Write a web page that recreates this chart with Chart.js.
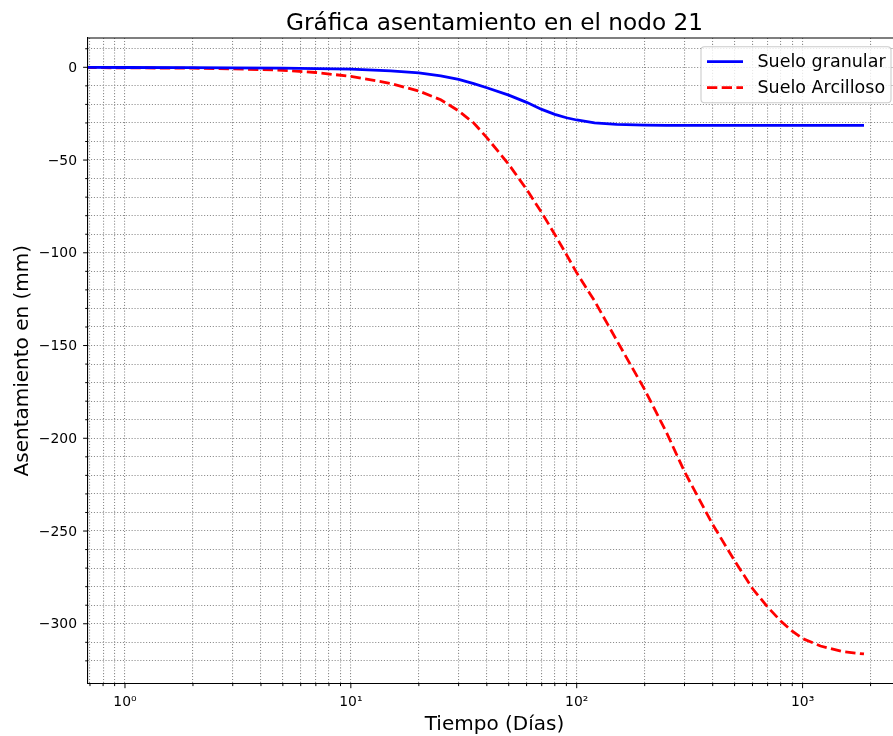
<!DOCTYPE html>
<html>
<head>
<meta charset="utf-8">
<script src="https://cdn.jsdelivr.net/npm/chart.js@4.4.0/dist/chart.umd.min.js"></script>
<style>
html,body{margin:0;padding:0;background:#fff;overflow:hidden;width:893px;height:736px}
canvas{display:block}
</style>
</head>
<body>
<canvas id="c" width="905" height="736"></canvas>
<script>
// ---- data ----
const dias = [0.5, 1, 2, 3, 5, 7, 10, 15, 20, 25, 30, 35, 40, 50, 60, 70, 80, 90, 100, 120, 150, 200, 250, 300, 400, 500, 600, 700, 800, 900, 1000, 1200, 1500, 1870];
const sueloGranular = [0, -0.1, -0.2, -0.3, -0.5, -0.7, -1.0, -1.9, -3.0, -4.6, -6.5, -8.8, -11.0, -15.0, -18.9, -22.7, -25.4, -27.2, -28.4, -29.9, -30.8, -31.2, -31.3, -31.3, -31.3, -31.3, -31.3, -31.3, -31.3, -31.3, -31.3, -31.3, -31.3, -31.3];
const sueloArcilloso = [0, -0.3, -0.5, -0.8, -1.6, -2.8, -4.9, -8.7, -12.8, -17.5, -23.5, -30.0, -37.9, -52.3, -65.8, -78.4, -90.1, -100.9, -110.8, -126.0, -147.0, -173.8, -197.0, -218.0, -246.5, -266.0, -281.0, -291.0, -298.5, -304.0, -308.0, -312.0, -315.0, -316.3];

const xTicks = [0.7, 0.8, 0.9, 1, 2, 3, 4, 5, 6, 7, 8, 9, 10, 20, 30, 40, 50, 60, 70, 80, 90, 100, 200, 300, 400, 500, 600, 700, 800, 900, 1000, 2000];
const xMajor = [1, 10, 100, 1000];
const xLabels = ['10\u2070', '10\u00B9', '10\u00B2', '10\u00B3'];
const yTicks = [10, 0, -10, -20, -30, -40, -50, -60, -70, -80, -90, -100, -110, -120, -130, -140, -150, -160, -170, -180, -190, -200, -210, -220, -230, -240, -250, -260, -270, -280, -290, -300, -310, -320];
const yMajor = [0, -50, -100, -150, -200, -250, -300];
const yLabels = ['0', '\u221250', '\u2212100', '\u2212150', '\u2212200', '\u2212250', '\u2212300'];

const titulo = 'Gráfica asentamiento en el nodo 21';
const xTitulo = 'Tiempo (Días)';
const yTitulo = 'Asentamiento en (mm)';
const serieNombres = ['Suelo granular', 'Suelo Arcilloso'];

const FONT = "'DejaVu Sans', sans-serif";

const decorPlugin = {
  id: 'decor',
  afterDraw(chart) {
    const ctx = chart.ctx;
    const a = chart.chartArea;
    const xs = chart.scales.x, ys = chart.scales.y;
    ctx.save();
    // top spine
    ctx.strokeStyle = '#000';
    ctx.lineWidth = 1.1;
    ctx.beginPath();
    ctx.moveTo(a.left, a.top);
    ctx.lineTo(a.right, a.top);
    ctx.stroke();
    // tick marks
    ctx.lineWidth = 1;
    xTicks.forEach(v => {
      const px = xs.getPixelForValue(v);
      if (px < a.left - 0.5 || px > a.right + 0.5) return;
      const len = xMajor.includes(v) ? 4.9 : 2.8;
      ctx.beginPath();
      ctx.moveTo(px, a.bottom);
      ctx.lineTo(px, a.bottom + len);
      ctx.stroke();
    });
    yTicks.forEach(v => {
      const py = ys.getPixelForValue(v);
      if (py < a.top - 0.5 || py > a.bottom + 0.5) return;
      const len = yMajor.includes(v) ? 4.9 : 2.8;
      ctx.beginPath();
      ctx.moveTo(a.left - len, py);
      ctx.lineTo(a.left, py);
      ctx.stroke();
    });
    // titles
    const cx = (a.left + a.right) / 2;
    const cy = (a.top + a.bottom) / 2;
    ctx.fillStyle = '#000';
    ctx.textAlign = 'center';
    ctx.textBaseline = 'alphabetic';
    ctx.font = '23.2px ' + FONT;
    ctx.fillText(titulo, cx, 29.5);
    ctx.font = '20px ' + FONT;
    ctx.fillText(xTitulo, cx, 729.5);
    ctx.save();
    ctx.translate(27.5, cy);
    ctx.rotate(-Math.PI / 2);
    ctx.fillText(yTitulo, 0, 0);
    ctx.restore();
    // legend
    const bx = 701, by = 46.7, bw = 190, bh = 56, r = 3.5;
    ctx.beginPath();
    ctx.moveTo(bx + r, by);
    ctx.lineTo(bx + bw - r, by);
    ctx.quadraticCurveTo(bx + bw, by, bx + bw, by + r);
    ctx.lineTo(bx + bw, by + bh - r);
    ctx.quadraticCurveTo(bx + bw, by + bh, bx + bw - r, by + bh);
    ctx.lineTo(bx + r, by + bh);
    ctx.quadraticCurveTo(bx, by + bh, bx, by + bh - r);
    ctx.lineTo(bx, by + r);
    ctx.quadraticCurveTo(bx, by, bx + r, by);
    ctx.closePath();
    ctx.fillStyle = 'rgba(255,255,255,0.8)';
    ctx.fill();
    ctx.strokeStyle = '#cccccc';
    ctx.lineWidth = 1.1;
    ctx.stroke();
    const rows = [61.7, 87.7];
    chart.data.datasets.forEach((ds, i) => {
      const y = rows[i];
      ctx.beginPath();
      ctx.strokeStyle = ds.borderColor;
      ctx.lineWidth = ds.borderWidth;
      ctx.setLineDash(ds.borderDash || []);
      ctx.moveTo(707, y);
      ctx.lineTo(743, y);
      ctx.stroke();
      ctx.setLineDash([]);
      ctx.fillStyle = '#000';
      ctx.textAlign = 'left';
      ctx.font = '17.5px ' + FONT;
      ctx.fillText(ds.label, 757.5, y + 5.6);
    });
    ctx.restore();
  }
};

const gridCommon = { color: '#8c8c8c', lineWidth: 1.1, drawTicks: false };
const borderCommon = { display: true, color: '#000', width: 1.1, dash: [1.1, 1.8] };
const tickFont = { family: FONT, size: 13.9 };

new Chart(document.getElementById('c'), {
  type: 'line',
  data: {
    datasets: [
      {
        label: serieNombres[0],
        data: dias.map((d, i) => ({ x: d, y: sueloGranular[i] })),
        borderColor: '#0000ff',
        borderWidth: 2.78,
        pointRadius: 0,
        fill: false,
        tension: 0,
        clip: 0
      },
      {
        label: serieNombres[1],
        data: dias.map((d, i) => ({ x: d, y: sueloArcilloso[i] })),
        borderColor: '#ff0000',
        borderWidth: 2.78,
        borderDash: [10.3, 4.4],
        pointRadius: 0,
        fill: false,
        tension: 0,
        clip: 0
      }
    ]
  },
  options: {
    responsive: false,
    animation: false,
    devicePixelRatio: 1,
    layout: { padding: { left: 0, top: 38, right: 4, bottom: 0 }, autoPadding: false },
    plugins: { legend: { display: false }, title: { display: false }, tooltip: { enabled: false } },
    scales: {
      x: {
        type: 'logarithmic',
        position: 'bottom',
        min: 0.686,
        max: 2727,
        bounds: 'data',
        afterBuildTicks: s => { s.ticks = xTicks.map(v => ({ value: v, major: false })); },
        afterFit: s => { s.height = 52.7; },
        ticks: {
          autoSkip: false, maxRotation: 0, minRotation: 0, padding: 11, color: '#000', font: tickFont,
          callback: (v) => { const i = xMajor.indexOf(v); return i >= 0 ? xLabels[i] : ''; }
        },
        grid: gridCommon,
        border: borderCommon
      },
      y: {
        type: 'linear',
        position: 'left',
        min: -332.1,
        max: 15.8,
        bounds: 'data',
        afterBuildTicks: s => { s.ticks = yTicks.map(v => ({ value: v })); },
        afterFit: s => { s.width = 88; },
        ticks: {
          autoSkip: false, padding: 11, color: '#000', font: tickFont, labelOffset: 1,
          callback: (v) => { const i = yMajor.indexOf(v); return i >= 0 ? yLabels[i] : ''; }
        },
        grid: gridCommon,
        border: borderCommon
      }
    }
  },
  plugins: [decorPlugin]
});
</script>
</body>
</html>
